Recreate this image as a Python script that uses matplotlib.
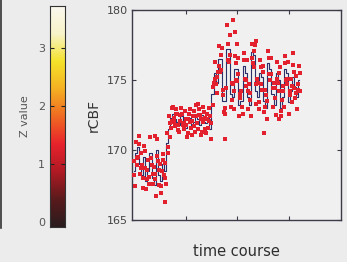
import numpy as np
import matplotlib
matplotlib.use("Agg")
import matplotlib.pyplot as plt
from matplotlib.colors import LinearSegmentedColormap
from matplotlib.lines import Line2D

# fitted response (blue step line), one value every 4 time units
fit = [168.5, 169.8, 170.2, 169.0, 168.2, 169.5, 167.8, 168.5, 169.8, 168.0, 167.5, 170.0, 168.2, 167.8, 169.0, 168.5,
       170.5, 171.5, 172.3, 172.6, 172.2,
       172.0, 171.8, 172.4, 172.1, 171.6, 171.9, 172.3, 171.7, 172.0, 172.6, 172.2, 171.8, 172.5, 172.0, 171.9,
       172.3, 171.5, 174.0, 175.5, 174.8,
       176.5, 176.5, 173.5, 173.5, 177.2, 177.2, 174.0, 173.8, 175.8, 175.8, 173.2, 173.5, 176.0, 175.5, 173.8, 173.2,
       177.0, 176.8, 174.2, 173.8, 175.5, 175.2, 173.5, 173.0, 176.2, 175.8, 174.0, 173.2, 175.5, 175.0, 173.0, 173.8,
       175.8, 175.5, 173.4, 174.2, 175.2, 174.5, 173.8, 175.0]

# measured samples (red)
obs_a = [169.2, 170.6, 169.5, 168.3, 168.9, 170.3, 167.2, 169.3, 170.9, 167.6, 168.3, 170.8, 167.5, 166.9, 169.7, 169.1,
         171.2, 172.4, 171.6, 173.1, 171.7,
         172.6, 171.3, 173.0, 171.5, 172.2, 171.2, 172.9, 171.1, 172.8, 173.2, 171.5, 172.5, 171.3, 172.7, 171.2,
         171.6, 172.4, 173.2, 176.3, 174.1,
         177.4, 175.7, 174.3, 172.6, 178.9, 176.3, 173.1, 174.7, 176.7, 174.9, 172.4, 174.2, 176.9, 174.6, 172.9, 174.1,
         177.6, 175.9, 173.3, 174.8, 176.4, 174.3, 172.7, 173.9, 177.1, 175.0, 173.1, 174.4, 176.3, 174.2, 172.4, 174.6,
         176.7, 174.7, 172.6, 175.1, 176.1, 173.7, 172.9, 176.0]
obs_b = [167.4, 168.9, 171.0, 169.8, 167.3, 168.7, 168.6, 167.6, 168.9, 168.8, 166.7, 169.2, 169.0, 168.5, 168.2, 167.6,
         169.8, 170.9, 173.0, 172.0, 172.9,
         171.4, 172.5, 171.8, 172.8, 170.9, 172.6, 171.6, 172.4, 171.3, 171.9, 172.9, 171.1, 173.1, 171.5, 172.6,
         173.0, 170.8, 174.8, 174.7, 175.6,
         175.6, 177.3, 172.7, 174.4, 176.4, 178.2, 174.8, 172.9, 175.0, 176.6, 174.0, 172.6, 175.1, 176.4, 174.7, 172.4,
         176.2, 177.5, 175.1, 172.9, 174.7, 176.0, 174.3, 172.2, 175.4, 176.6, 174.8, 172.5, 174.8, 175.9, 173.6, 173.1,
         175.0, 176.3, 174.2, 173.4, 174.4, 175.3, 174.7, 174.2]
obs_c = [168.2, 169.4, 170.4, 168.7, 168.0, 169.9, 167.9, 168.1, 169.4, 168.3, 167.9, 169.6, 168.6, 167.4, 169.3, 168.0,
         170.2, 171.9, 172.1, 172.3, 172.6,
         171.8, 172.1, 172.6, 171.9, 171.8, 172.2, 172.0, 172.1, 171.7, 172.4, 172.5, 172.2, 172.0, 172.3, 172.2,
         172.1, 171.9, 174.5, 175.1, 175.2,
         176.0, 176.8, 173.9, 173.0, 177.6, 176.8, 173.6, 174.2, 176.2, 175.4, 173.7, 173.1, 176.4, 175.0, 174.2, 173.6,
         176.6, 177.1, 174.7, 173.4, 175.9, 175.6, 173.1, 173.5, 176.6, 175.4, 174.4, 173.7, 175.1, 175.5, 172.8, 174.2,
         176.2, 175.1, 173.9, 174.6, 175.6, 174.1, 174.3, 175.5]
outlier_t = [40, 60, 124, 176, 192, 196, 200, 236, 252, 280, 308]
outlier_v = [171.0, 166.3, 173.3, 170.8, 179.3, 178.4, 177.6, 177.8, 171.2, 172.2, 176.9]

cbar_ticks = [0, 1, 2, 3]
y_ticks = [165, 170, 175, 180]
x_ticks = [100, 200, 300]

t = np.arange(len(fit)) * 4

bg = "#ececec"
ink = "#3b3b4a"
red = "#e3202e"

fig = plt.figure(figsize=(3.47, 2.62), dpi=100, facecolor=bg)

# main time course
ax = fig.add_axes([0.380, 0.160, 0.602, 0.802], facecolor="#f0f0f0")
ax.plot(t, fit, drawstyle="steps-mid", color="#2b2f6a", lw=0.8, zorder=2)
ax.plot(t, obs_a, "s", color=red, ms=3.4, mew=0, zorder=3)
ax.plot(t + 2, obs_b, "s", color=red, ms=3.4, mew=0, zorder=3)
ax.plot(t + 1, obs_c, "s", color=red, ms=3.0, mew=0, zorder=3)
ax.plot(outlier_t, outlier_v, "s", color=red, ms=2.6, mew=0, zorder=3)
ax.set_xlim(-4, 400)
ax.set_ylim(165, 180)
ax.set_yticks(y_ticks)
ax.set_xticks(x_ticks)
ax.set_xticklabels([])
ax.tick_params(direction="in", length=3, color=ink, top=True, right=True,
               labelsize=8, labelcolor="#444444", pad=3)
for s in ax.spines.values():
    s.set_color(ink)
    s.set_linewidth(1.0)
ax.set_ylabel("rCBF", fontsize=10, color="#333333", labelpad=4)
ax.set_xlabel("time course", fontsize=10.5, color="#2e2e2e", labelpad=14)

# colour bar
cmap = LinearSegmentedColormap.from_list(
    "zval", ["#2a1c1e", "#5a1a1c", "#b01a24", "#e8232c", "#f06a22", "#f5b022", "#f5e22a", "#f8f3c8", "#faf8ee"])
cax = fig.add_axes([0.144, 0.134, 0.043, 0.843])
grad = np.linspace(-0.08, 3.72, 256).reshape(-1, 1)
cax.imshow(grad, aspect="auto", origin="lower", cmap=cmap, extent=[0, 1, -0.08, 3.72])
cax.set_xticks([])
cax.set_yticks(cbar_ticks)
cax.tick_params(direction="in", length=3, color="#222222", labelsize=8, labelcolor="#555555", right=True)
for s in cax.spines.values():
    s.set_color("#333333")
    s.set_linewidth(0.8)
cax.set_ylabel("Z value", fontsize=8, color="#555555", labelpad=6)

# edge of neighbouring panel
fig.add_artist(Line2D([0.004, 0.004], [0.13, 1.0], color="#333333", lw=1.2, transform=fig.transFigure))

fig.savefig("out.png", dpi=100, facecolor=bg)
